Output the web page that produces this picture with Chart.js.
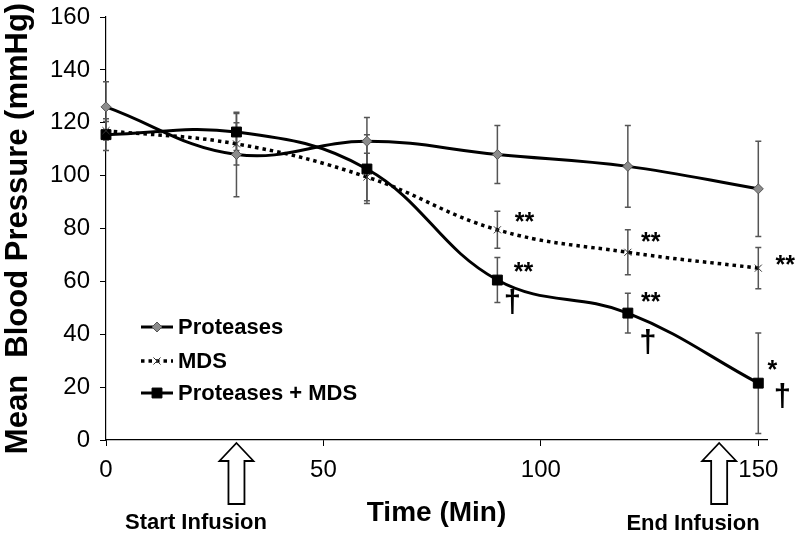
<!DOCTYPE html>
<html>
<head>
<meta charset="utf-8">
<script src="https://cdn.jsdelivr.net/npm/chart.js@4"></script>
<style>
  html, body { margin: 0; padding: 0; background: #fff; }
  #wrap { width: 800px; height: 536px; }
</style>
</head>
<body>
<div id="wrap"><canvas id="bpChart" width="800" height="536"></canvas></div>
<script>
// time points (min)
const times = [0, 30, 60, 90, 120, 150];

// mean blood pressure (mmHg) and error bar half-widths
const proteases = [126, 108, 113, 108, 103.5, 95];
const proteasesErr = [9.5, 16, 9, 11, 15.5, 18];
const mds = [117, 112, 99.5, 79.5, 71, 65];
const mdsErr = [3.5, 8, 9, 7, 8.5, 7.8];
const combo = [115.5, 116.5, 102.5, 60.5, 48, 21.5];
const comboErr = [6, 7, 13, 8.5, 7.5, 19];

// significance marks next to points
const mdsStars = ['', '', '', '**', '**', '**'];
const comboStars = ['', '', '', '**', '**', '*'];
const comboDaggers = ['', '', '', '\u2020', '\u2020', '\u2020'];

// infusion events
const infusionTimes = [30, 141];
const infusionLabels = ['Start Infusion', 'End Infusion'];

const yTicks = [0, 20, 40, 60, 80, 100, 120, 140, 160];
const xTicks = [0, 50, 100, 150];

const toPoints = vals => vals.map((v, i) => ({ x: times[i], y: v }));

// error bars, annotations, arrows and the inside legend
const overlays = {
    id: 'overlays',
    beforeDatasetsDraw(chart) {
        const ctx = chart.ctx;
        const xs = chart.scales.x, ys = chart.scales.y;
        ctx.save();
        ctx.strokeStyle = '#555';
        ctx.lineWidth = 1.5;
        chart.data.datasets.forEach(ds => {
            ds.errors.forEach((e, i) => {
                const px = xs.getPixelForValue(times[i]);
                const top = ys.getPixelForValue(ds.data[i].y + e);
                const bot = ys.getPixelForValue(ds.data[i].y - e);
                ctx.beginPath();
                ctx.moveTo(px, top); ctx.lineTo(px, bot);
                ctx.moveTo(px - 3, top); ctx.lineTo(px + 3, top);
                ctx.moveTo(px - 3, bot); ctx.lineTo(px + 3, bot);
                ctx.stroke();
            });
        });
        ctx.restore();
    },
    afterDraw(chart) {
        const ctx = chart.ctx;
        const xs = chart.scales.x, ys = chart.scales.y;
        ctx.save();
        ctx.fillStyle = '#000';
        ctx.textAlign = 'center';
        ctx.textBaseline = 'middle';

        // stars and daggers
        const starOff = [[0, 0], [0, 0], [0, 0], [27, -12], [23, -14], [27, -7]];
        const comboStarOff = [[0, 0], [0, 0], [0, 0], [26, -12], [23, -15], [14, -17]];
        const daggerOff = [[0, 0], [0, 0], [0, 0], [15, 23], [20, 30], [24, 14]];
        ctx.font = 'bold 25px "Liberation Sans", Arial, sans-serif';
        times.forEach((t, i) => {
            const px = xs.getPixelForValue(t);
            if (mdsStars[i]) {
                ctx.fillText(mdsStars[i], px + starOff[i][0], ys.getPixelForValue(mds[i]) + starOff[i][1] + 5);
            }
            if (comboStars[i]) {
                ctx.fillText(comboStars[i], px + comboStarOff[i][0], ys.getPixelForValue(combo[i]) + comboStarOff[i][1] + 5);
            }
        });
        ctx.font = 'bold 31px "Liberation Sans", Arial, sans-serif';
        times.forEach((t, i) => {
            if (comboDaggers[i]) {
                const px = xs.getPixelForValue(t);
                ctx.fillText(comboDaggers[i], px + daggerOff[i][0], ys.getPixelForValue(combo[i]) + daggerOff[i][1]);
            }
        });

        // infusion arrows and labels
        const axisY = chart.chartArea.bottom;
        ctx.strokeStyle = '#000';
        ctx.lineWidth = 1.8;
        infusionTimes.forEach(t => {
            const cx = xs.getPixelForValue(t);
            const tip = axisY + 3, base = axisY + 21, end = axisY + 64;
            ctx.beginPath();
            ctx.moveTo(cx, tip);
            ctx.lineTo(cx + 17, base);
            ctx.lineTo(cx + 8, base);
            ctx.lineTo(cx + 8, end);
            ctx.lineTo(cx - 8, end);
            ctx.lineTo(cx - 8, base);
            ctx.lineTo(cx - 17, base);
            ctx.closePath();
            ctx.fillStyle = '#fff';
            ctx.fill();
            ctx.stroke();
        });
        ctx.fillStyle = '#000';
        ctx.font = 'bold 22px "Liberation Sans", Arial, sans-serif';
        ctx.fillText(infusionLabels[0], 196, 523);
        ctx.fillText(infusionLabels[1], 693, 524);

        // legend inside the plot
        ctx.textAlign = 'left';
        ctx.font = 'bold 22px "Liberation Sans", Arial, sans-serif';
        const rows = [327, 361, 393];
        chart.data.datasets.forEach((ds, i) => {
            const y = rows[i];
            ctx.save();
            ctx.strokeStyle = ds.borderColor;
            ctx.lineWidth = ds.borderWidth;
            ctx.setLineDash(ds.borderDash || []);
            ctx.beginPath();
            ctx.moveTo(141, y); ctx.lineTo(173, y);
            ctx.stroke();
            ctx.restore();
            ctx.save();
            ctx.fillStyle = ds.pointBackgroundColor;
            ctx.strokeStyle = ds.pointBorderColor;
            ctx.lineWidth = ds.pointBorderWidth;
            Chart.helpers.drawPoint(ctx, { pointStyle: ds.pointStyle, radius: ds.pointRadius, borderWidth: ds.pointBorderWidth, rotation: 0 }, 157, y);
            ctx.restore();
            ctx.fillText(ds.label, 178, y + 1);
        });
        ctx.restore();
    }
};

const ctx = document.getElementById('bpChart').getContext('2d');
const bpChart = new Chart(ctx, {
    type: 'line',
    data: {
        datasets: [
            {
                label: 'Proteases',
                data: toPoints(proteases),
                errors: proteasesErr,
                borderColor: '#000',
                borderWidth: 3,
                pointStyle: 'rectRot',
                pointRadius: 5,
                pointBackgroundColor: '#8c8c8c',
                pointBorderColor: '#555',
                pointBorderWidth: 1,
                tension: 0.4,
                clip: false
            },
            {
                label: 'MDS',
                data: toPoints(mds),
                errors: mdsErr,
                borderColor: '#000',
                borderWidth: 3.5,
                borderDash: [3.5, 4],
                pointStyle: 'crossRot',
                pointRadius: 5,
                pointBackgroundColor: '#fff',
                pointBorderColor: '#333',
                pointBorderWidth: 1,
                tension: 0.4,
                clip: false
            },
            {
                label: 'Proteases + MDS',
                data: toPoints(combo),
                errors: comboErr,
                borderColor: '#000',
                borderWidth: 3,
                pointStyle: 'rect',
                pointRadius: 7,
                pointBackgroundColor: '#000',
                pointBorderColor: '#000',
                pointBorderWidth: 1,
                tension: 0.4,
                clip: false
            }
        ]
    },
    options: {
        responsive: false,
        animation: false,
        layout: { padding: { top: 0, right: 33, left: 0, bottom: 0 } },
        plugins: {
            legend: { display: false },
            tooltip: { enabled: false }
        },
        scales: {
            x: {
                type: 'linear',
                min: 0,
                max: 152,
                afterBuildTicks: s => { s.ticks = xTicks.map(v => ({ value: v })); },
                afterFit: s => { s.height = 96; },
                ticks: {
                    color: '#000',
                    padding: 10,
                    maxRotation: 0,
                    font: { family: '"Liberation Sans", Arial, sans-serif', size: 24 }
                },
                grid: { drawOnChartArea: false, color: '#000', tickLength: 6 },
                border: { color: '#000', width: 1.2 },
                title: {
                    display: true,
                    text: 'Time (Min)',
                    color: '#000',
                    padding: { top: 0, bottom: 6 },
                    font: { family: '"Liberation Sans", Arial, sans-serif', size: 28, weight: 'bold' }
                }
            },
            y: {
                min: 0,
                max: 160,
                afterBuildTicks: s => { s.ticks = yTicks.map(v => ({ value: v })); },
                afterFit: s => { s.width = 106; s.paddingTop = 17; },
                ticks: {
                    color: '#000',
                    padding: 10,
                    font: { family: '"Liberation Sans", Arial, sans-serif', size: 24 }
                },
                grid: { drawOnChartArea: false, color: '#000', tickLength: 6 },
                border: { color: '#000', width: 1.2 },
                title: {
                    display: true,
                    text: 'Mean  Blood Pressure (mmHg)',
                    color: '#000',
                    padding: { top: 0, bottom: 0 },
                    font: { family: '"Liberation Sans", Arial, sans-serif', size: 31, weight: 'bold' }
                }
            }
        }
    },
    plugins: [overlays]
});
</script>
</body>
</html>
